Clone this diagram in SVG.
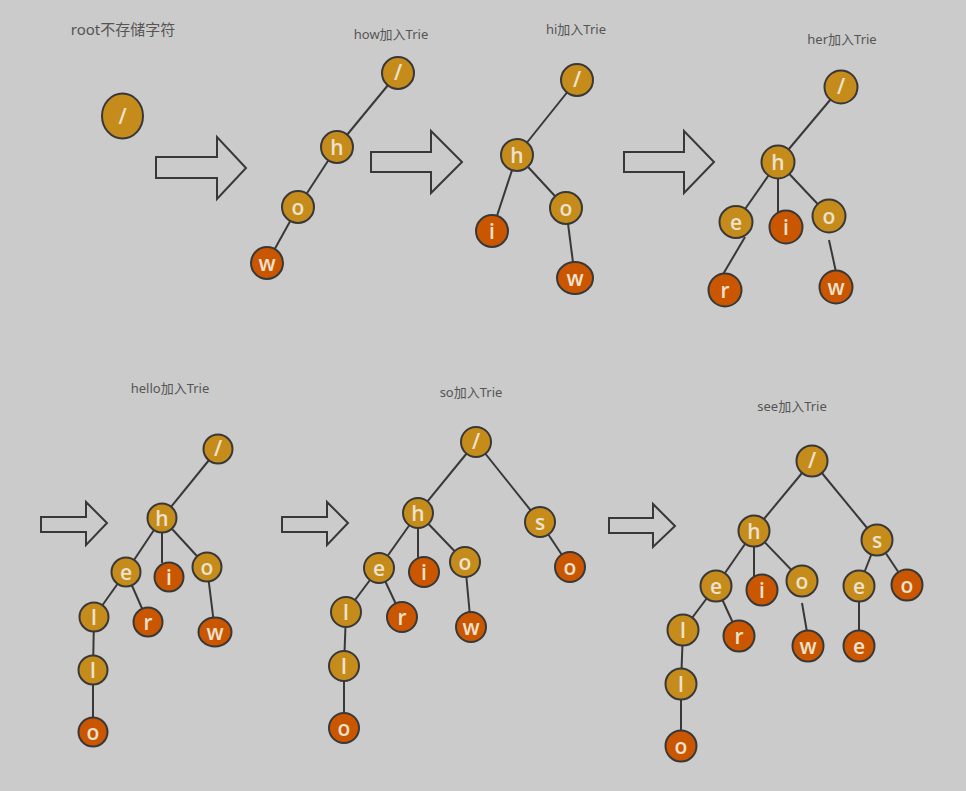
<svg xmlns="http://www.w3.org/2000/svg" width="966" height="791" viewBox="0 0 966 791">
<style>
.g{fill:#c58c1b;stroke:#383838;stroke-width:2}
.r{fill:#cb5600;stroke:#383838;stroke-width:2}
.t{font-family:"Open Sans","Noto Sans",sans-serif;font-size:21px;font-weight:600;fill:#ece2cf;text-anchor:middle}
.lb{font-family:"Noto Sans","Noto Sans CJK SC",sans-serif;font-size:13px;fill:#555555;text-anchor:middle}
.e{stroke:#383838;stroke-width:2;fill:none}
.ar{fill:none;stroke:#383838;stroke-width:2;stroke-linejoin:miter}
</style>
<rect width="966" height="791" fill="#cbcbcb"/>

<g id="labels">
<text class="lb" x="123" y="35" style="font-size:15px">root不存储字符</text>
<text class="lb" x="391" y="39">how加入Trie</text>
<text class="lb" x="576" y="34">hi加入Trie</text>
<text class="lb" x="842" y="44">her加入Trie</text>
<text class="lb" x="170" y="393">hello加入Trie</text>
<text class="lb" x="471" y="397">so加入Trie</text>
<text class="lb" x="792" y="411">see加入Trie</text>
</g>

<g id="arrows">
<path class="ar" d="M156,157 H217 V137 L246,168 L217,199 V178 H156 Z"/>
<path class="ar" d="M371,152 H431 V131 L462,162 L431,193 V172 H371 Z"/>
<path class="ar" d="M624,152 H684 V131 L714,162 L684,193 V172 H624 Z"/>
<path class="ar" d="M41,517 H86 V502 L107,523 L86,545 V532 H41 Z"/>
<path class="ar" d="M282,517 H327 V502 L348,523 L327,545 V532 H282 Z"/>
<path class="ar" d="M609,518 H653 V504 L675,526 L653,547 V533 H609 Z"/>
</g>

<g id="connectors" class="e">
<line x1="398" y1="73" x2="337" y2="147"/>
<line x1="337" y1="147" x2="298" y2="207"/>
<line x1="298" y1="207" x2="267" y2="263"/>
<line x1="577" y1="80" x2="517" y2="155"/>
<line x1="517" y1="155" x2="492" y2="231"/>
<line x1="517" y1="155" x2="566" y2="208"/>
<line x1="566" y1="208" x2="575" y2="278"/>
<line x1="841" y1="87" x2="778" y2="162"/>
<line x1="778" y1="162" x2="736" y2="222"/>
<line x1="778" y1="162" x2="778" y2="212"/>
<line x1="778" y1="162" x2="829" y2="216"/>
<line x1="745" y1="237" x2="722" y2="276"/>
<line x1="829" y1="240" x2="836" y2="272"/>
<line x1="218" y1="449" x2="162" y2="518"/>
<line x1="162" y1="518" x2="126" y2="572"/>
<line x1="162" y1="518" x2="162" y2="563"/>
<line x1="162" y1="518" x2="207" y2="567"/>
<line x1="126" y1="572" x2="94" y2="617"/>
<line x1="126" y1="572" x2="148" y2="622"/>
<line x1="94" y1="617" x2="93" y2="670"/>
<line x1="93" y1="670" x2="93" y2="732"/>
<line x1="207" y1="567" x2="215" y2="632"/>
<line x1="476" y1="442" x2="418" y2="513"/>
<line x1="476" y1="442" x2="540" y2="522"/>
<line x1="540" y1="522" x2="570" y2="567"/>
<line x1="418" y1="513" x2="379" y2="568"/>
<line x1="418" y1="513" x2="418" y2="558"/>
<line x1="418" y1="513" x2="465" y2="562"/>
<line x1="379" y1="568" x2="346" y2="612"/>
<line x1="379" y1="568" x2="402" y2="617"/>
<line x1="346" y1="612" x2="344" y2="666"/>
<line x1="344" y1="666" x2="344" y2="728"/>
<line x1="465" y1="562" x2="471" y2="627"/>
<line x1="812" y1="461" x2="754" y2="531"/>
<line x1="812" y1="461" x2="877" y2="540"/>
<line x1="754" y1="531" x2="716" y2="586"/>
<line x1="754" y1="531" x2="754" y2="576"/>
<line x1="754" y1="531" x2="802" y2="581"/>
<line x1="716" y1="586" x2="683" y2="630"/>
<line x1="716" y1="586" x2="739" y2="636"/>
<line x1="683" y1="630" x2="681" y2="684"/>
<line x1="681" y1="684" x2="681" y2="746"/>
<line x1="802" y1="603" x2="807" y2="632"/>
<line x1="877" y1="540" x2="859" y2="586"/>
<line x1="877" y1="540" x2="907" y2="585"/>
<line x1="859" y1="586" x2="859" y2="646"/>
</g>

<g id="t0-root"><ellipse class="g" cx="122.5" cy="116" rx="20.5" ry="22.5"/><text class="t" x="122.5" y="124">/</text></g>

<g id="t1-root"><circle class="g" cx="398" cy="73" r="16"/><text class="t" x="398" y="80">/</text></g>
<g id="t1-h"><circle class="g" cx="337" cy="147" r="16"/><text class="t" x="337" y="155">h</text></g>
<g id="t1-o"><circle class="g" cx="298" cy="207" r="16"/><text class="t" x="298" y="215">o</text></g>
<g id="t1-w"><circle class="r" cx="267" cy="263" r="16"/><text class="t" x="267" y="271">w</text></g>

<g id="t2-root"><circle class="g" cx="577" cy="80" r="16"/><text class="t" x="577" y="87">/</text></g>
<g id="t2-h"><circle class="g" cx="517" cy="155" r="16"/><text class="t" x="517" y="163">h</text></g>
<g id="t2-i"><circle class="r" cx="492" cy="231" r="16"/><text class="t" x="492" y="239">i</text></g>
<g id="t2-o"><circle class="g" cx="566" cy="208" r="16"/><text class="t" x="566" y="216">o</text></g>
<g id="t2-w"><ellipse class="r" cx="575" cy="278" rx="18" ry="16"/><text class="t" x="575" y="286">w</text></g>

<g id="t3-root"><circle class="g" cx="841" cy="87" r="16.5"/><text class="t" x="841" y="94">/</text></g>
<g id="t3-h"><circle class="g" cx="778" cy="162" r="16.5"/><text class="t" x="778" y="170">h</text></g>
<g id="t3-e"><ellipse class="g" cx="736" cy="222" rx="16.5" ry="16"/><text class="t" x="736" y="230">e</text></g>
<g id="t3-i"><circle class="r" cx="786" cy="227" r="16.5"/><text class="t" x="786" y="235">i</text></g>
<g id="t3-o"><circle class="g" cx="829" cy="216" r="16.5"/><text class="t" x="829" y="224">o</text></g>
<g id="t3-r"><circle class="r" cx="725" cy="290" r="16.5"/><text class="t" x="725" y="298">r</text></g>
<g id="t3-w"><circle class="r" cx="836" cy="287" r="16.5"/><text class="t" x="836" y="295">w</text></g>

<g id="t4-root"><circle class="g" cx="218" cy="449" r="14.5"/><text class="t" x="218" y="456">/</text></g>
<g id="t4-h"><circle class="g" cx="162" cy="518" r="14.5"/><text class="t" x="162" y="526">h</text></g>
<g id="t4-e"><circle class="g" cx="126" cy="572" r="14.5"/><text class="t" x="126" y="580">e</text></g>
<g id="t4-i"><circle class="r" cx="169" cy="577" r="14.5"/><text class="t" x="169" y="585">i</text></g>
<g id="t4-o"><circle class="g" cx="207" cy="567" r="14.5"/><text class="t" x="207" y="575">o</text></g>
<g id="t4-l1"><circle class="g" cx="94" cy="617" r="14.5"/><text class="t" x="94" y="625">l</text></g>
<g id="t4-r"><circle class="r" cx="148" cy="622" r="14.5"/><text class="t" x="148" y="630">r</text></g>
<g id="t4-w"><ellipse class="r" cx="215" cy="632" rx="16.5" ry="14.5"/><text class="t" x="215" y="640">w</text></g>
<g id="t4-l2"><circle class="g" cx="93" cy="670" r="14.5"/><text class="t" x="93" y="678">l</text></g>
<g id="t4-o2"><circle class="r" cx="93" cy="732" r="14.5"/><text class="t" x="93" y="740">o</text></g>

<g id="t5-root"><circle class="g" cx="476" cy="442" r="15"/><text class="t" x="476" y="449">/</text></g>
<g id="t5-h"><circle class="g" cx="418" cy="513" r="15"/><text class="t" x="418" y="521">h</text></g>
<g id="t5-s"><circle class="g" cx="540" cy="522" r="15"/><text class="t" x="540" y="530">s</text></g>
<g id="t5-so"><circle class="r" cx="570" cy="567" r="15"/><text class="t" x="570" y="575">o</text></g>
<g id="t5-e"><circle class="g" cx="379" cy="568" r="15"/><text class="t" x="379" y="576">e</text></g>
<g id="t5-i"><circle class="r" cx="424" cy="572" r="15"/><text class="t" x="424" y="580">i</text></g>
<g id="t5-o"><circle class="g" cx="465" cy="562" r="15"/><text class="t" x="465" y="570">o</text></g>
<g id="t5-l1"><circle class="g" cx="346" cy="612" r="15"/><text class="t" x="346" y="620">l</text></g>
<g id="t5-r"><circle class="r" cx="402" cy="617" r="15"/><text class="t" x="402" y="625">r</text></g>
<g id="t5-w"><circle class="r" cx="471" cy="627" r="15"/><text class="t" x="471" y="635">w</text></g>
<g id="t5-l2"><circle class="g" cx="344" cy="666" r="15"/><text class="t" x="344" y="674">l</text></g>
<g id="t5-o2"><circle class="r" cx="344" cy="728" r="15"/><text class="t" x="344" y="736">o</text></g>

<g id="t6-root"><circle class="g" cx="812" cy="461" r="15.5"/><text class="t" x="812" y="468">/</text></g>
<g id="t6-h"><circle class="g" cx="754" cy="531" r="15.5"/><text class="t" x="754" y="539">h</text></g>
<g id="t6-s"><circle class="g" cx="877" cy="540" r="15.5"/><text class="t" x="877" y="548">s</text></g>
<g id="t6-e"><circle class="g" cx="716" cy="586" r="15.5"/><text class="t" x="716" y="594">e</text></g>
<g id="t6-i"><circle class="r" cx="762" cy="590" r="15.5"/><text class="t" x="762" y="598">i</text></g>
<g id="t6-o"><circle class="g" cx="802" cy="581" r="15.5"/><text class="t" x="802" y="589">o</text></g>
<g id="t6-se"><circle class="g" cx="859" cy="586" r="15.5"/><text class="t" x="859" y="594">e</text></g>
<g id="t6-so"><circle class="r" cx="907" cy="585" r="15.5"/><text class="t" x="907" y="593">o</text></g>
<g id="t6-l1"><circle class="g" cx="683" cy="630" r="15.5"/><text class="t" x="683" y="638">l</text></g>
<g id="t6-r"><circle class="r" cx="739" cy="636" r="15.5"/><text class="t" x="739" y="644">r</text></g>
<g id="t6-w"><circle class="r" cx="808" cy="646" r="15.5"/><text class="t" x="808" y="654">w</text></g>
<g id="t6-see"><circle class="r" cx="859" cy="646" r="15.5"/><text class="t" x="859" y="654">e</text></g>
<g id="t6-l2"><circle class="g" cx="681" cy="684" r="15.5"/><text class="t" x="681" y="692">l</text></g>
<g id="t6-o2"><circle class="r" cx="681" cy="746" r="15.5"/><text class="t" x="681" y="754">o</text></g>
</svg>
